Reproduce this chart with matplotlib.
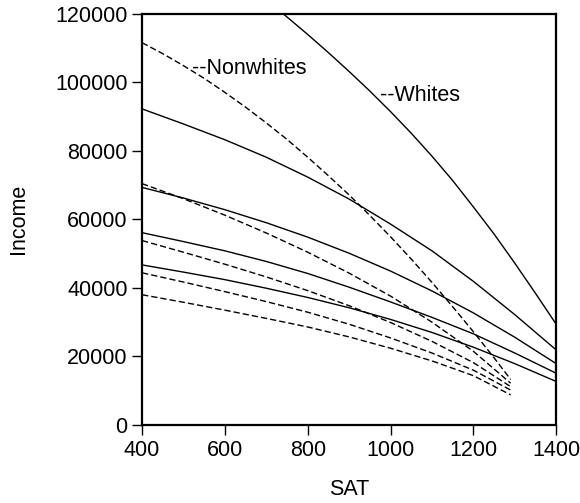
import numpy as np
import matplotlib
matplotlib.use("Agg")
import matplotlib.pyplot as plt

plt.rcParams['font.family'] = ['Liberation Sans', 'DejaVu Sans']

# SAT grids for the curves
sat = [400, 500, 600, 700, 800, 900, 1000, 1100, 1200, 1300, 1400]
sat_w1 = [700, 750, 800, 850, 900, 950, 1000, 1050, 1100, 1150, 1200, 1250, 1300, 1350, 1400]
sat_n = [400, 500, 600, 700, 800, 900, 1000, 1100, 1200, 1290]
sat_n1 = [400, 450, 500, 550, 600, 650, 700, 750, 800, 850, 900, 950, 1000, 1050, 1100,
          1150, 1200, 1250, 1290]

# Whites (solid)
whites_1 = [124000, 119000, 113900, 108600, 103100, 97400, 91400, 85100, 78400, 71300,
            63600, 55700, 47200, 38400, 29400]
whites_2 = [92200, 87800, 83200, 78100, 72300, 65900, 58600, 50800, 41900, 32200, 21900]
whites_3 = [69300, 66200, 62800, 59000, 54800, 50100, 44900, 39100, 32700, 25600, 17900]
whites_4 = [56100, 53500, 50800, 47700, 44200, 40200, 35900, 31400, 26600, 21000, 15100]
whites_5 = [46700, 44600, 42400, 39900, 37200, 34200, 30800, 27000, 22700, 17900, 12700]

# Nonwhites (dashed)
nonwhites_1 = [111500, 108300, 104800, 101100, 97000, 92700, 88100, 83300, 78100, 72700,
               67100, 61100, 54900, 48400, 41600, 34500, 27200, 19600, 13300]
nonwhites_2 = [70400, 66000, 61200, 56000, 50400, 44300, 37600, 30000, 21500, 12200]
nonwhites_3 = [53800, 50400, 46900, 43200, 39200, 34800, 29900, 24400, 18200, 11200]
nonwhites_4 = [44400, 41700, 38900, 36000, 32900, 29400, 25400, 21000, 16000, 10200]
nonwhites_5 = [38000, 35800, 33500, 31100, 28600, 25700, 22400, 18700, 14400, 8800]

fs = 15.5

fig = plt.figure(figsize=(5.8, 5.03), dpi=100)
ax = fig.add_axes([0.245, 0.155, 0.714, 0.818])

ax.plot(sat_w1, whites_1, color='black', lw=1.0)
for w in [whites_2, whites_3, whites_4, whites_5]:
    ax.plot(sat, w, color='black', lw=1.0)
ax.plot(sat_n1, nonwhites_1, color='black', lw=1.0, dashes=(4.5, 2.2))
for n in [nonwhites_2, nonwhites_3, nonwhites_4, nonwhites_5]:
    ax.plot(sat_n, n, color='black', lw=1.0, dashes=(4.5, 2.2))

ax.text(521, 103900, '--Nonwhites', fontsize=fs, va='center', ha='left')
ax.text(975, 96000, '--Whites', fontsize=fs, va='center', ha='left')

ax.set_xlim(400, 1400)
ax.set_ylim(0, 120000)
ax.set_xticks([400, 600, 800, 1000, 1200, 1400])
ax.set_yticks([0, 20000, 40000, 60000, 80000, 100000, 120000])
ax.tick_params(direction='out', length=7, width=1, labelsize=fs, pad=3.5)
for s in ax.spines.values():
    s.set_linewidth(1.6)

ax.set_xlabel('SAT', fontsize=fs, labelpad=13)
ax.set_ylabel('Income', fontsize=fs, labelpad=19)

fig.savefig('out.png', dpi=100)
